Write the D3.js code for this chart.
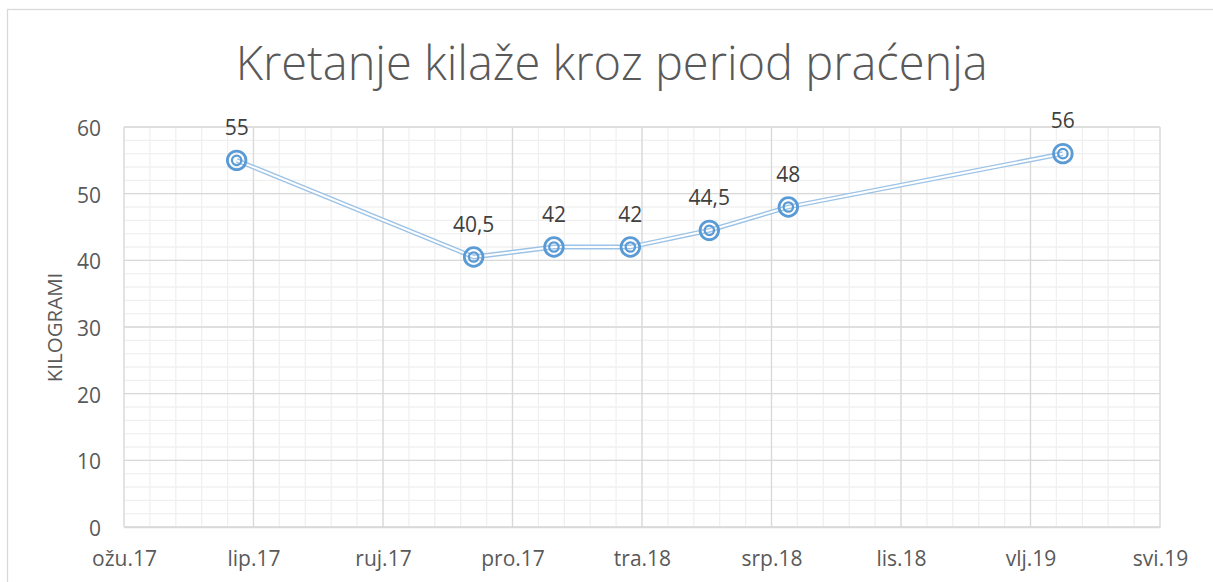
<!DOCTYPE html>
<html>
<head>
<meta charset="utf-8">
<script src="https://cdn.jsdelivr.net/npm/d3@7"></script>
<style>
  html, body { margin: 0; padding: 0; background: #fff; }
  svg { display: block; }
  text { font-family: "Open Sans", "Noto Sans", sans-serif; }
</style>
</head>
<body>
<svg id="chart" width="1213" height="582"></svg>
<script>
// ---- data ----
const measureDates = ["2017-05-31", "2017-11-30", "2018-01-31", "2018-03-31", "2018-05-31", "2018-07-31", "2019-02-28"];
const weights = [55, 40.5, 42, 42, 44.5, 48, 56];
const xTickLabels = ["ožu.17", "lip.17", "ruj.17", "pro.17", "tra.18", "srp.18", "lis.18", "vlj.19", "svi.19"];
const yTickValues = [0, 10, 20, 30, 40, 50, 60];
const axisStartDate = "2017-03-05";
const majorStepDays = 100;
const minorStepDays = 20;
const titleText = "Kretanje kilaže kroz period praćenja";
const yAxisTitle = "KILOGRAMI";

// ---- setup ----
const W = 1213, H = 582;
const plot = { left: 124, right: 1160, top: 127, bottom: 527 };
const svg = d3.select("#chart");
const parse = d3.utcParse("%Y-%m-%d");
const start = parse(axisStartDate);
const nMajor = xTickLabels.length - 1;
const end = d3.utcDay.offset(start, nMajor * majorStepDays);

const x = d3.scaleUtc().domain([start, end]).range([plot.left, plot.right]);
const y = d3.scaleLinear().domain([0, 60]).range([plot.bottom, plot.top]);

const majorX = d3.range(0, nMajor + 1).map(i => d3.utcDay.offset(start, i * majorStepDays));
const minorX = d3.range(0, nMajor * majorStepDays / minorStepDays + 1).map(i => d3.utcDay.offset(start, i * minorStepDays));
const minorY = d3.range(0, 61, 2);

const data = measureDates.map((d, i) => ({ date: parse(d), value: weights[i] }));
const fmt = d3.formatLocale({ decimal: ",", thousands: ".", grouping: [3], currency: ["", "€"] }).format("~g");

// chart area border
svg.append("rect")
  .attr("x", 7.5).attr("y", 9.5)
  .attr("width", W).attr("height", H)
  .attr("fill", "#fff").attr("stroke", "#d9d9d9").attr("stroke-width", 1.3);

// title
svg.append("text")
  .attr("x", 611.7).attr("y", 80)
  .attr("text-anchor", "middle")
  .attr("fill", "#595959")
  .style("font-size", "48px")
  .style("font-weight", 300)
  .attr("textLength", 752).attr("lengthAdjust", "spacingAndGlyphs")
  .text(titleText);

// gridlines
const grid = svg.append("g");
grid.selectAll("line.minx").data(minorX).join("line")
  .attr("x1", d => x(d)).attr("x2", d => x(d))
  .attr("y1", plot.top).attr("y2", plot.bottom)
  .attr("stroke", "#f0f0f0").attr("stroke-width", 1.3);
grid.selectAll("line.miny").data(minorY).join("line")
  .attr("x1", plot.left).attr("x2", plot.right)
  .attr("y1", d => y(d)).attr("y2", d => y(d))
  .attr("stroke", "#f0f0f0").attr("stroke-width", 1.3);
grid.selectAll("line.majx").data(majorX).join("line")
  .attr("x1", d => x(d)).attr("x2", d => x(d))
  .attr("y1", plot.top).attr("y2", plot.bottom)
  .attr("stroke", "#d9d9d9").attr("stroke-width", 1.3);
grid.selectAll("line.majy").data(yTickValues).join("line")
  .attr("x1", plot.left).attr("x2", plot.right)
  .attr("y1", d => y(d)).attr("y2", d => y(d))
  .attr("stroke", "#d9d9d9").attr("stroke-width", 1.3);

// x axis
const xAxis = svg.append("g")
  .attr("transform", `translate(0,${plot.bottom})`)
  .call(d3.axisBottom(x).tickValues(majorX).tickFormat((d, i) => xTickLabels[i]).tickSize(0));
xAxis.select(".domain").attr("stroke", "#d9d9d9").attr("stroke-width", 1.3);
xAxis.selectAll("text")
  .attr("y", 39).attr("dy", null)
  .attr("fill", "#595959")
  .style("font-size", "21px");

// y axis
const yAxis = svg.append("g")
  .attr("transform", `translate(${plot.left},0)`)
  .call(d3.axisLeft(y).tickValues(yTickValues).tickSize(0));
yAxis.select(".domain").remove();
yAxis.selectAll("text")
  .attr("x", -23).attr("dy", "0.41em")
  .attr("fill", "#595959")
  .style("font-size", "21px");

// y title
svg.append("text")
  .attr("transform", "translate(62,327.5) rotate(-90)")
  .attr("text-anchor", "middle")
  .attr("fill", "#595959")
  .style("font-size", "20.5px")
  .text(yAxisTitle);

// line (double compound)
const line = d3.line().x(d => x(d.date)).y(d => y(d.value));
svg.append("path").datum(data)
  .attr("d", line).attr("fill", "none")
  .attr("stroke", "#9dc3e6").attr("stroke-width", 4.8)
  .attr("stroke-linejoin", "round");
svg.append("path").datum(data)
  .attr("d", line).attr("fill", "none")
  .attr("stroke", "#fff").attr("stroke-width", 2.0)
  .attr("stroke-linejoin", "round");

// markers
const markers = svg.append("g").selectAll("g").data(data).join("g")
  .attr("transform", d => `translate(${x(d.date)},${y(d.value)})`);
markers.append("circle").attr("r", 9.3)
  .attr("fill", "none").attr("stroke", "#5b9bd5").attr("stroke-width", 2.8);
markers.append("circle").attr("r", 4.7)
  .attr("fill", "none").attr("stroke", "#5b9bd5").attr("stroke-width", 2.3);

// data labels
svg.append("g").selectAll("text").data(data).join("text")
  .attr("x", d => x(d.date))
  .attr("y", d => y(d.value) - 25.5)
  .attr("text-anchor", "middle")
  .attr("fill", "#404040")
  .style("font-size", "21px")
  .text(d => fmt(d.value));
</script>
</body>
</html>
